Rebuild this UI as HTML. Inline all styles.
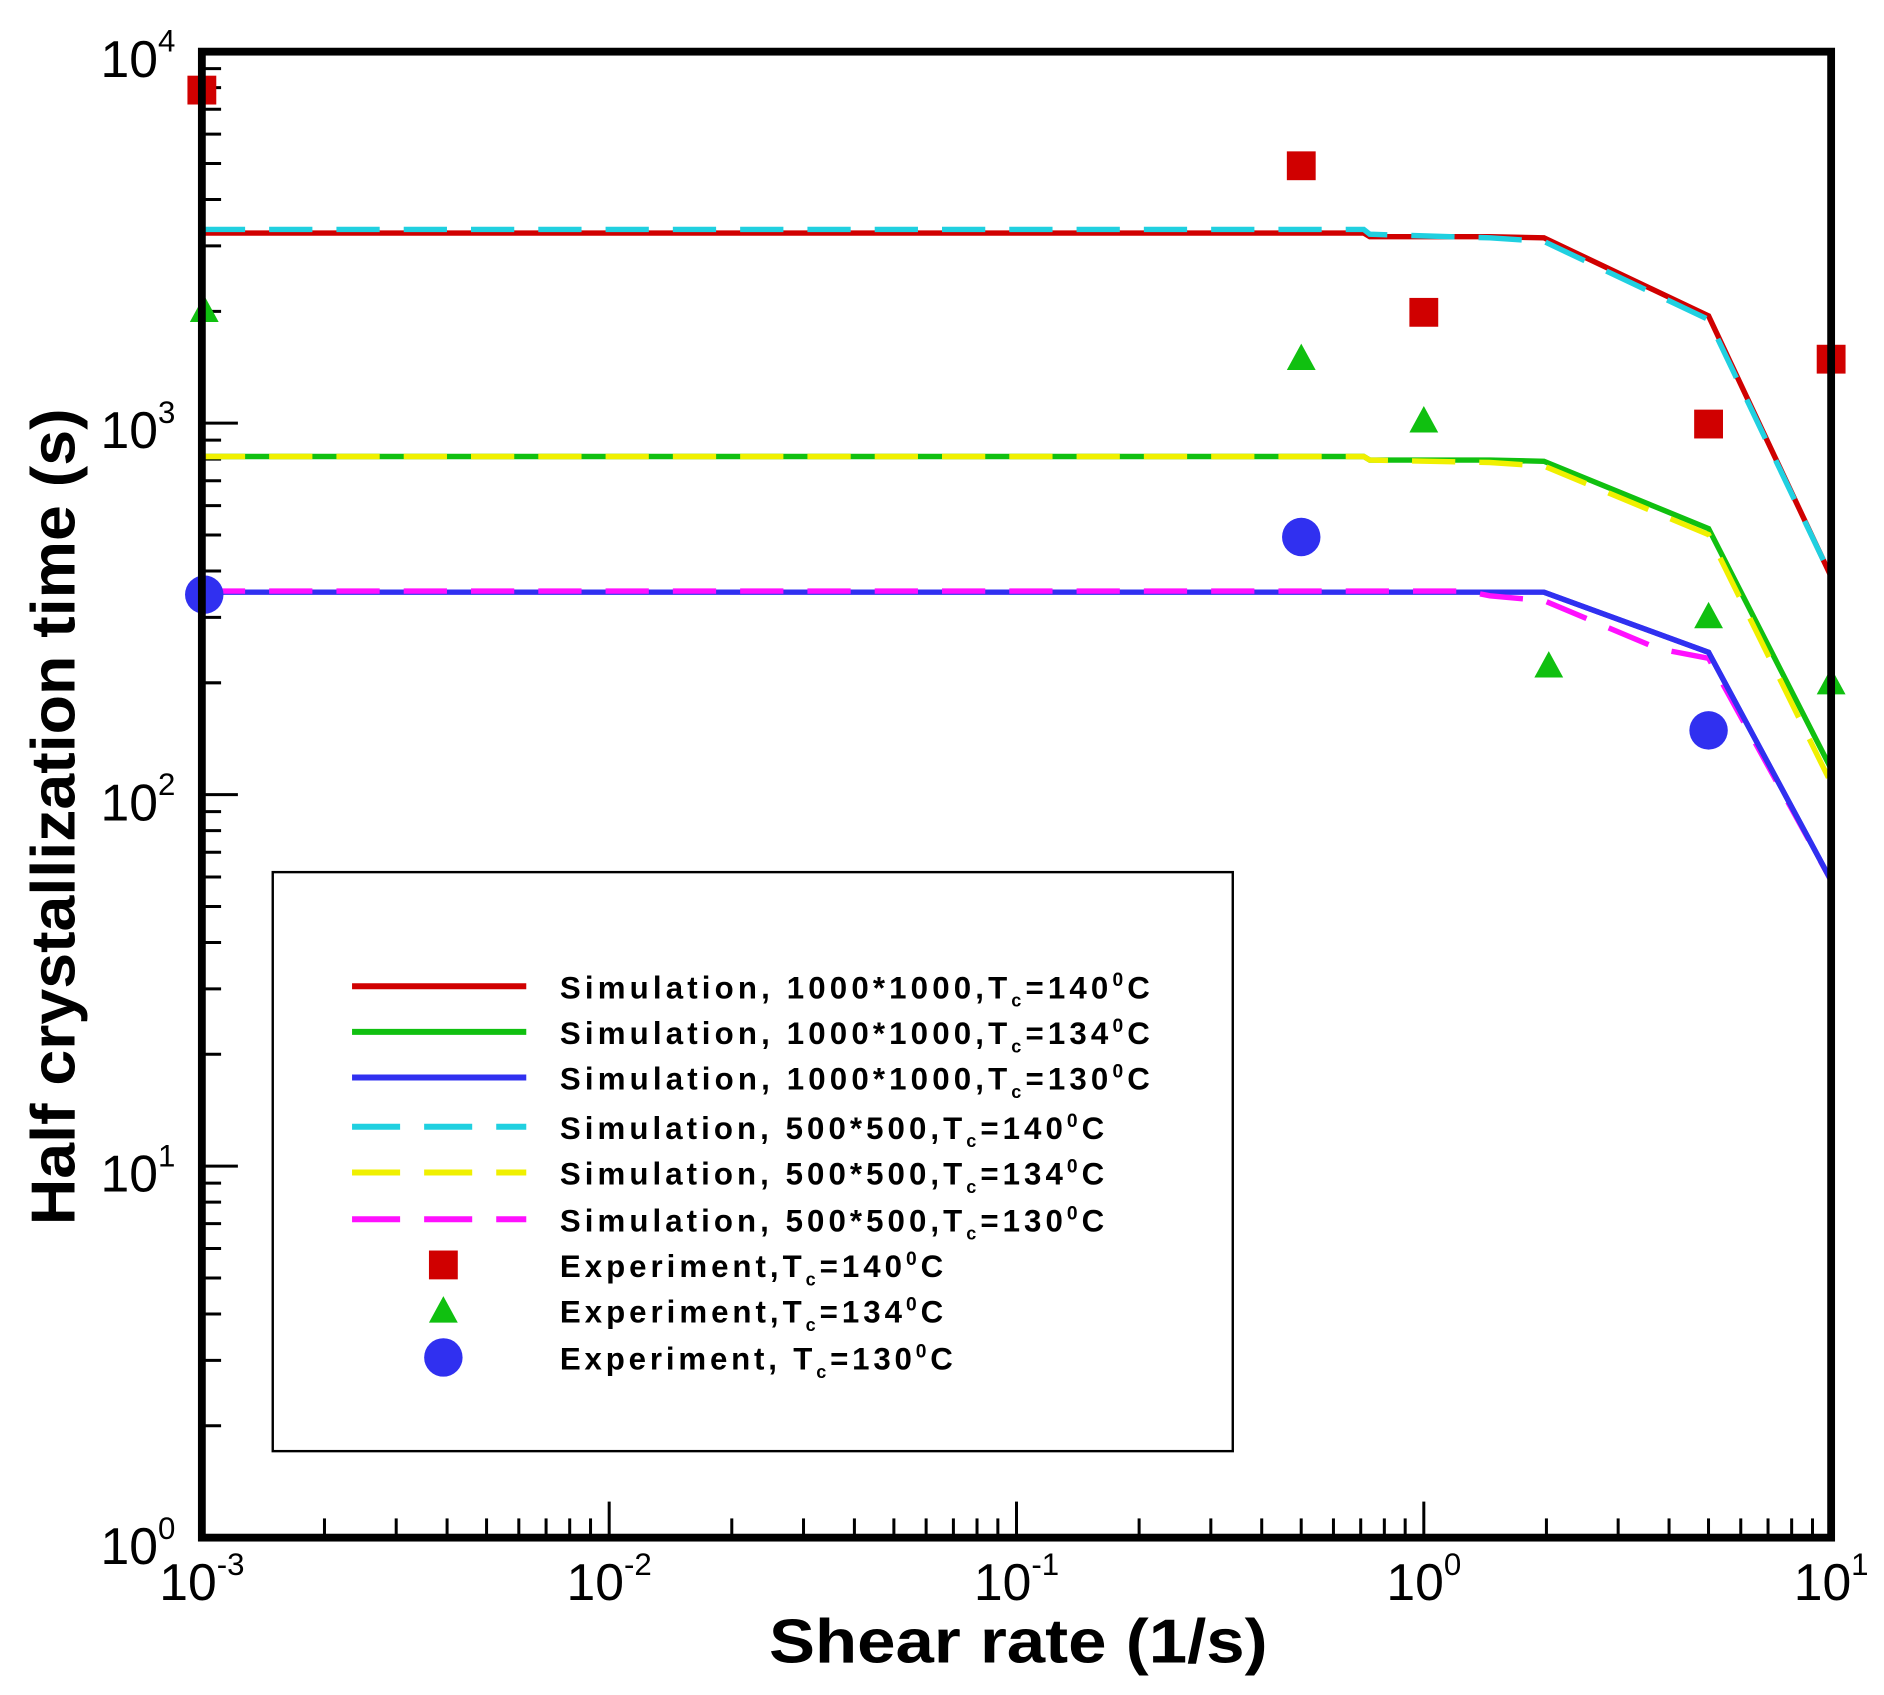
<!DOCTYPE html>
<html><head><meta charset="utf-8"><style>
html,body{margin:0;padding:0;background:#fff;}
svg{display:block;}
text{font-family:"Liberation Sans",sans-serif;}
</style></head><body>
<svg id="s" width="1884" height="1695" viewBox="0 0 1568 1411" preserveAspectRatio="none" xmlns="http://www.w3.org/2000/svg">
<g id="ticks" stroke="#000" stroke-width="2.5"></g>
<g fill="none" stroke-width="4.5">
<polyline stroke="#d00000" points="168,194 1135,194 1140,197 1240,197 1285,198 1422,263 1524,480"/>
<polyline stroke="#20d0e0" stroke-dasharray="36,20" points="168,191 1135,191 1140,195 1240,198 1285,201 1422,266 1524,480"/>
<polyline stroke="#10c010" points="168,380 1135,380 1140,383 1240,383 1285,384 1422,440 1524,640"/>
<polyline stroke="#f0f000" stroke-dasharray="36,20" points="168,380 1135,380 1140,383 1240,385 1285,388 1422,445 1524,652"/>
<polyline stroke="#3030f0" points="168,493 1285,493 1422,543 1524,733"/>
<polyline stroke="#ff10ff" stroke-dasharray="36,20" points="168,492 1220,492 1240,496 1285,500 1380,540 1422,548 1524,733"/>
<polyline stroke="#3030f0" points="1285,493 1422,543 1524,733"/>
</g>
<g fill="#d00000">
<rect x="156" y="63" width="24" height="24"/><rect x="1071" y="126" width="24" height="24"/>
<rect x="1173" y="248" width="24" height="24"/><rect x="1410" y="341" width="24" height="24"/>
<rect x="1512" y="287" width="24" height="24"/>
</g>
<g fill="#10c010">
<polygon points="170,246 182,268 158,268"/><polygon points="1083,286 1095,308 1071,308"/>
<polygon points="1185,338 1197,360 1173,360"/><polygon points="1289,542 1301,564 1277,564"/>
<polygon points="1422,501 1434,523 1410,523"/><polygon points="1524,556 1536,578 1512,578"/>
</g>
<g fill="#3030f0">
<circle cx="170" cy="495" r="16"/><circle cx="1083" cy="447" r="16"/><circle cx="1422" cy="608" r="16"/>
</g>
<rect x="168" y="43" width="1356" height="1237" fill="none" stroke="#000" stroke-width="6.5"/>
<rect x="227" y="726" width="799" height="482" fill="#fff" stroke="#000" stroke-width="2"/>
<g stroke-width="5">
<line x1="293" y1="821" x2="438" y2="821" stroke="#d00000"/>
<line x1="293" y1="859" x2="438" y2="859" stroke="#10c010"/>
<line x1="293" y1="897" x2="438" y2="897" stroke="#3030f0"/>
<line x1="293" y1="938" x2="438" y2="938" stroke="#20d0e0" stroke-dasharray="40,20"/>
<line x1="293" y1="976" x2="438" y2="976" stroke="#f0f000" stroke-dasharray="40,20"/>
<line x1="293" y1="1015" x2="438" y2="1015" stroke="#ff10ff" stroke-dasharray="40,20"/>
</g>
<rect x="357" y="1041" width="24" height="24" fill="#d00000"/>
<polygon points="369,1079 381,1101 357,1101" fill="#10c010"/>
<circle cx="369" cy="1130" r="16" fill="#3030f0"/>
<g font-size="26" font-weight="bold" fill="#000" lengthAdjust="spacing">
<text x="466" y="831" textLength="491">Simulation, 1000*1000,T<tspan font-size="15" dy="7">c</tspan><tspan dy="-7">=140</tspan><tspan font-size="16" dy="-10">0</tspan><tspan dy="10">C</tspan></text>
<text x="466" y="869" textLength="491">Simulation, 1000*1000,T<tspan font-size="15" dy="7">c</tspan><tspan dy="-7">=134</tspan><tspan font-size="16" dy="-10">0</tspan><tspan dy="10">C</tspan></text>
<text x="466" y="907" textLength="491">Simulation, 1000*1000,T<tspan font-size="15" dy="7">c</tspan><tspan dy="-7">=130</tspan><tspan font-size="16" dy="-10">0</tspan><tspan dy="10">C</tspan></text>
<text x="466" y="948" textLength="453">Simulation, 500*500,T<tspan font-size="15" dy="7">c</tspan><tspan dy="-7">=140</tspan><tspan font-size="16" dy="-10">0</tspan><tspan dy="10">C</tspan></text>
<text x="466" y="986" textLength="453">Simulation, 500*500,T<tspan font-size="15" dy="7">c</tspan><tspan dy="-7">=134</tspan><tspan font-size="16" dy="-10">0</tspan><tspan dy="10">C</tspan></text>
<text x="466" y="1025" textLength="453">Simulation, 500*500,T<tspan font-size="15" dy="7">c</tspan><tspan dy="-7">=130</tspan><tspan font-size="16" dy="-10">0</tspan><tspan dy="10">C</tspan></text>
<text x="466" y="1063" textLength="319">Experiment,T<tspan font-size="15" dy="7">c</tspan><tspan dy="-7">=140</tspan><tspan font-size="16" dy="-10">0</tspan><tspan dy="10">C</tspan></text>
<text x="466" y="1101" textLength="319">Experiment,T<tspan font-size="15" dy="7">c</tspan><tspan dy="-7">=134</tspan><tspan font-size="16" dy="-10">0</tspan><tspan dy="10">C</tspan></text>
<text x="466" y="1140" textLength="327">Experiment, T<tspan font-size="15" dy="7">c</tspan><tspan dy="-7">=130</tspan><tspan font-size="16" dy="-10">0</tspan><tspan dy="10">C</tspan></text>
</g>
<g font-size="43" fill="#000" text-anchor="end">
<text x="146" y="64">10<tspan font-size="26" dy="-21">4</tspan></text>
<text x="146" y="373">10<tspan font-size="26" dy="-21">3</tspan></text>
<text x="146" y="683">10<tspan font-size="26" dy="-21">2</tspan></text>
<text x="146" y="992">10<tspan font-size="26" dy="-21">1</tspan></text>
<text x="146" y="1302">10<tspan font-size="26" dy="-21">0</tspan></text>
</g>
<g font-size="43" fill="#000" text-anchor="middle">
<text x="168" y="1332">10<tspan font-size="26" dy="-21">-3</tspan></text>
<text x="507" y="1332">10<tspan font-size="26" dy="-21">-2</tspan></text>
<text x="846" y="1332">10<tspan font-size="26" dy="-21">-1</tspan></text>
<text x="1185" y="1332">10<tspan font-size="26" dy="-21">0</tspan></text>
<text x="1524" y="1332">10<tspan font-size="26" dy="-21">1</tspan></text>
</g>
<text x="640" y="1384" font-size="52" font-weight="bold" textLength="415" lengthAdjust="spacingAndGlyphs">Shear rate (1/s)</text>
<text transform="translate(62,1020) rotate(-90)" font-size="52" font-weight="bold" textLength="680" lengthAdjust="spacingAndGlyphs">Half crystallization time (s)</text>
</svg>
<script>
var g=document.getElementById('ticks'),s='';
for(var d=0;d<4;d++){for(var k=1;k<10;k++){var x=168+339*(d+Math.log10(k));var L=(k==1)?30:16;
if(!(d==0&&k==1))s+='<line x1="'+x+'" y1="1280" x2="'+x+'" y2="'+(1280-L)+'"/>';
var y=1280-309.25*(d+Math.log10(k));if(!(d==0&&k==1))s+='<line x1="168" y1="'+y+'" x2="'+(168+L)+'" y2="'+y+'"/>';}}
g.innerHTML=s;
</script>
</body></html>
